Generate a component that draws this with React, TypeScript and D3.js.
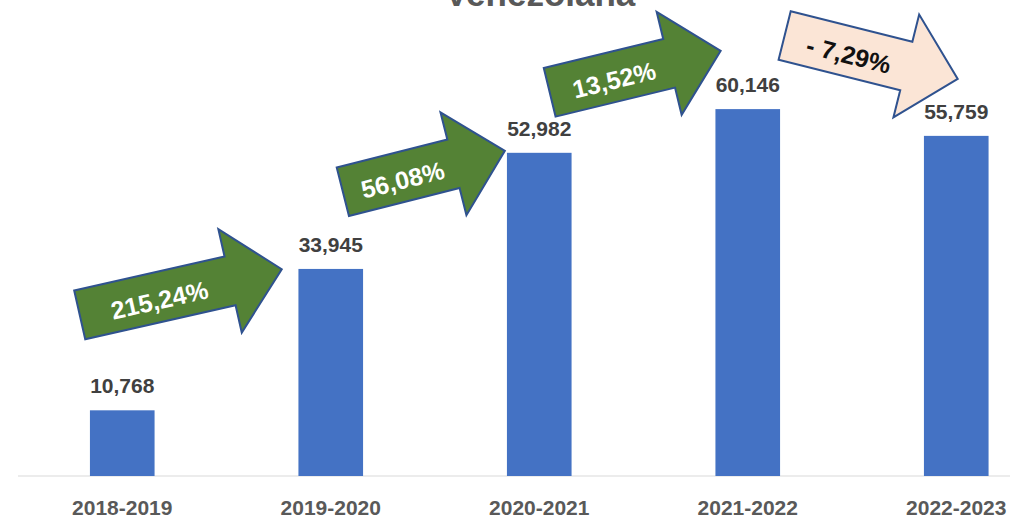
import React from "react";
import * as d3 from "d3";

// ---- data ----
const categories = ["2018-2019", "2019-2020", "2020-2021", "2021-2022", "2022-2023"];
const values = [10768, 33945, 52982, 60146, 55759];
const valueLabels = ["10,768", "33,945", "52,982", "60,146", "55,759"];
const titleText = "Venezolana";

// growth annotations (arrows), anchored in data space: position in category units, value units
const arrowLabels = ["215,24%", "56,08%", "13,52%", "- 7,29%"];
const arrowTailPos = [-0.204, 1.058, 2.05, 3.177];
const arrowTailVal = [26400, 46600, 62900, 72200];
const arrowTipPos = [0.765, 1.835, 2.87, 4.007];
const arrowTipVal = [33900, 53300, 69700, 65100];
const arrowUp = [true, true, true, false];

const W = 1010;
const H = 517;
const FONT = "'Liberation Sans', Arial, sans-serif";

export default function App() {
  const x = d3
    .scaleBand<string>()
    .domain(categories)
    .range([18, 1060.5])
    .paddingInner(0.69)
    .paddingOuter(0.345);
  const y = d3.scaleLinear().domain([0, 70000]).range([476, 49]);
  const step = x.step();
  const c0 = (x(categories[0]) as number) + x.bandwidth() / 2;
  const xp = d3.scaleLinear().domain([0, 1]).range([c0, c0 + step]);

  const shaftW = 50;
  const headW = 106;
  const headL = 53;

  const arrows = arrowLabels.map((lab, i) => {
    const tx = xp(arrowTailPos[i]);
    const ty = y(arrowTailVal[i]);
    const px = xp(arrowTipPos[i]);
    const py = y(arrowTipVal[i]);
    const L = Math.hypot(px - tx, py - ty);
    const ang = (Math.atan2(py - ty, px - tx) * 180) / Math.PI;
    const pts: [number, number][] = [
      [0, -shaftW / 2],
      [L - headL, -shaftW / 2],
      [L - headL, -headW / 2],
      [L, 0],
      [L - headL, headW / 2],
      [L - headL, shaftW / 2],
      [0, shaftW / 2],
    ];
    return { lab, tx, ty, L, ang, pts, up: arrowUp[i] };
  });

  return (
    <svg
      width={W}
      height={H}
      style={{ position: "absolute", left: 0, top: 0, background: "#fff" }}
    >
      <rect x={0} y={0} width={W} height={H} fill="#fff" />
      <text
        x={540}
        y={6}
        textAnchor="middle"
        fontFamily={FONT}
        fontWeight="bold"
        fontSize={35}
        fill="#595959"
      >
        {titleText}
      </text>

      {/* axis line */}
      <line x1={18} x2={W} y1={y(0)} y2={y(0)} stroke="#d9d9d9" strokeWidth={1.2} />

      {/* bars */}
      {categories.map((c, i) => (
        <rect
          key={c}
          x={x(c)}
          y={y(values[i])}
          width={x.bandwidth()}
          height={y(0) - y(values[i])}
          fill="#4472C4"
        />
      ))}

      {/* value labels */}
      {categories.map((c, i) => (
        <text
          key={"v" + c}
          x={(x(c) as number) + x.bandwidth() / 2}
          y={y(values[i]) - 17}
          textAnchor="middle"
          fontFamily={FONT}
          fontWeight="bold"
          fontSize={21}
          fill="#404040"
        >
          {valueLabels[i]}
        </text>
      ))}

      {/* category labels */}
      {categories.map((c) => (
        <text
          key={"c" + c}
          x={(x(c) as number) + x.bandwidth() / 2}
          y={515}
          textAnchor="middle"
          fontFamily={FONT}
          fontWeight="bold"
          fontSize={21}
          fill="#595959"
        >
          {c}
        </text>
      ))}

      {/* arrows */}
      {arrows.map((a, i) => (
        <g key={"a" + i} transform={`translate(${a.tx},${a.ty}) rotate(${a.ang})`}>
          <polygon
            points={a.pts.map((p) => p.join(",")).join(" ")}
            fill={a.up ? "#548235" : "#FBE5D6"}
            stroke="#2F528F"
            strokeWidth={2}
            strokeLinejoin="miter"
          />
          <text
            x={(a.L - headL) / 2 + 4}
            y={3}
            textAnchor="middle"
            dominantBaseline="central"
            fontFamily={FONT}
            fontWeight="bold"
            fontSize={25}
            fill={a.up ? "#ffffff" : "#111111"}
          >
            {a.lab}
          </text>
        </g>
      ))}
    </svg>
  );
}
